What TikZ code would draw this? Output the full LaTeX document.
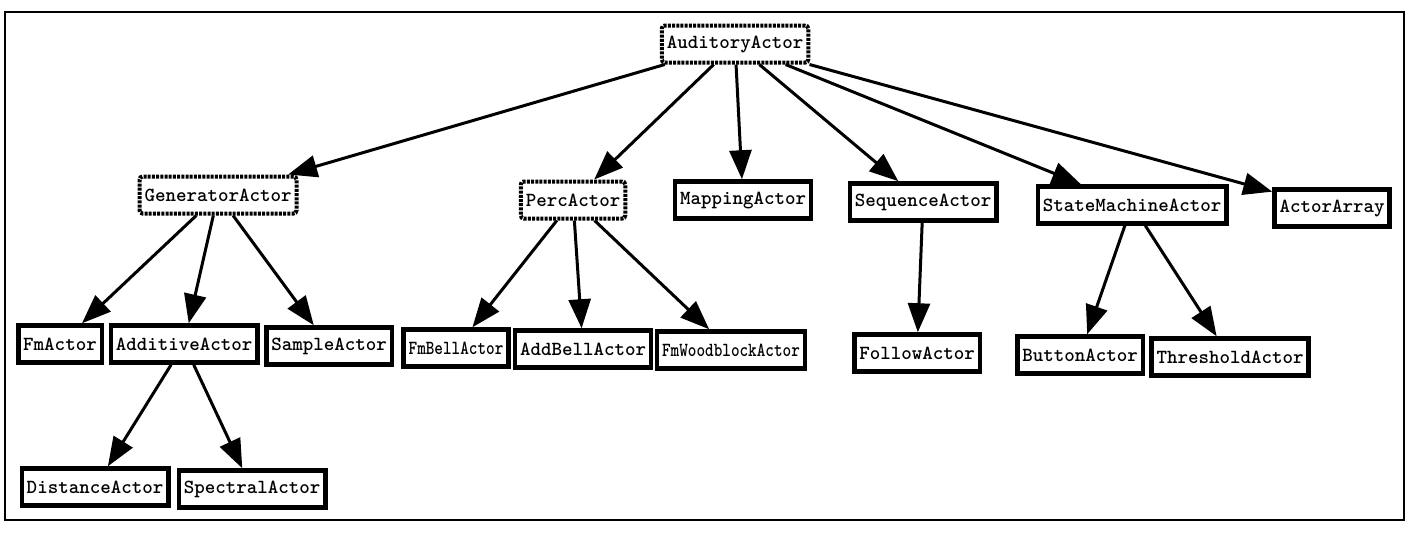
\documentclass[tikz,border=0pt]{standalone}
\usepackage{graphicx}
\usepackage{tikz}
\usetikzlibrary{arrows.meta, positioning}
\tikzstyle{actor}=[rectangle, draw=black, fill=white, line width=4.5pt, inner xsep=5pt, inner ysep=4pt, minimum height=37pt, font=\ttfamily\bfseries\fontsize{20}{22}\selectfont]
\tikzstyle{baseactor}=[actor, line width=4pt, dash pattern=on 3pt off 1.2pt, rounded corners=3pt]
\tikzstyle{derived}=[<-, line width=3pt]
\newcommand{\narrow}[1]{\scalebox{0.82}[1]{#1}}

\begin{document}
\begin{tikzpicture}[x=1pt,y=-1pt,node distance=150pt,>={Triangle[length=29pt,width=22pt]}]
    \useasboundingbox (0,0) rectangle (1410,533);
    \draw[line width=2pt] (5,12) rectangle (1404,520);

    % Root.
    \node[baseactor] (aud) at (735,44) {AuditoryActor};

    % First level.
    \node[baseactor] (gen) [below of=aud, xshift=-517pt, yshift=-1pt] {GeneratorActor}
      edge[derived] (aud);
    \node[baseactor] (perc) [below of=aud, xshift=-162pt, yshift=-6pt] {PercActor}
      edge[derived] (aud);
    \node[actor] (map) [below of=aud, xshift=8pt, yshift=-6pt] {MappingActor}
      edge[derived] (aud);
    \node[actor] (seq) [below of=aud, xshift=188pt, yshift=-8pt] {SequenceActor}
      edge[derived] (aud);
    \node[actor] (sm) [below of=aud, xshift=397pt, yshift=-11pt] {StateMachineActor}
      edge[derived] (aud);
    \node[actor] (arr) [below of=aud, xshift=597pt, yshift=-14pt] {ActorArray}
      edge[derived] (aud);

    % Generators.
    \node[actor] (fm) [below of=gen, xshift=-158pt, yshift=1pt] {FmActor}
      edge[derived] (gen);
    \node[actor] (add) [below of=gen, xshift=-34pt, yshift=1pt] {AdditiveActor}
      edge[derived] (gen);
    \node[actor] (samp) [below of=gen, xshift=111pt, yshift=-1pt] {SampleActor}
      edge[derived] (gen);
    \node[actor] (dist) [below of=add, xshift=-89pt, yshift=7pt] {DistanceActor}
      edge[derived] (add);
    \node[actor] (spec) [below of=add, xshift=68pt, yshift=5pt] {SpectralActor}
      edge[derived] (add);

    % Percussion.
    \node[actor] (fmbell) [below of=perc, xshift=-117pt, yshift=2pt] {\narrow{FmBellActor}}
      edge[derived] (perc);
    \node[actor] (addbell) [below of=perc, xshift=10pt, yshift=1pt] {AddBellActor}
      edge[derived] (perc);
    \node[actor] (wood) [below of=perc, xshift=158pt] {\narrow{FmWoodblockActor}}
      edge[derived] (perc);

    % Sequencing and states.
    \node[actor] (follow) [below of=seq, xshift=-6pt, yshift=-1pt] {FollowActor}
      edge[derived] (seq);
    \node[actor] (button) [below of=sm, xshift=-52pt] {ButtonActor}
      edge[derived] (sm);
    \node[actor] (thresh) [below of=sm, xshift=98pt, yshift=-2pt] {ThresholdActor}
      edge[derived] (sm);
\end{tikzpicture}
\end{document}
